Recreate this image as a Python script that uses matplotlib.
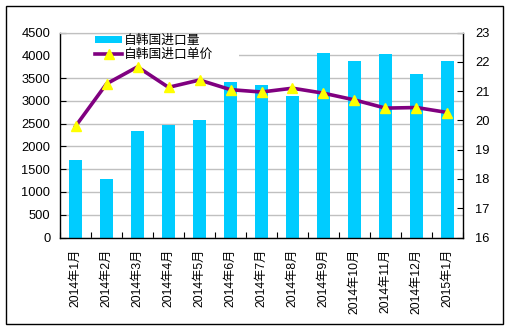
import matplotlib
matplotlib.use("Agg")
import matplotlib.pyplot as plt
from matplotlib.patches import Rectangle
from matplotlib.lines import Line2D
import numpy as np

plt.rcParams['font.family'] = ['Liberation Sans', 'Noto Sans CJK SC', 'DejaVu Sans']

months = ["2014年1月", "2014年2月", "2014年3月", "2014年4月", "2014年5月",
          "2014年6月", "2014年7月", "2014年8月", "2014年9月", "2014年10月",
          "2014年11月", "2014年12月", "2015年1月"]
import_volume = [1700, 1280, 2340, 2470, 2570, 3420, 3350, 3110, 4050,
                 3880, 4040, 3590, 3880]
import_price = [19.8, 21.25, 21.83, 21.13, 21.38, 21.05, 20.97, 21.1, 20.93,
                20.7, 20.42, 20.44, 20.27]
left_ticks = [0, 500, 1000, 1500, 2000, 2500, 3000, 3500, 4000, 4500]
right_ticks = [16, 17, 18, 19, 20, 21, 22, 23]

bar_color = "#00CCFF"
line_color = "#800080"
marker_color = "#FFFF00"
grid_color = "#C0C0C0"

fig = plt.figure(figsize=(5.13, 3.29), dpi=100)
ax = fig.add_axes([0.117, 0.278, 0.7855, 0.623])
ax2 = ax.twinx()

x = np.arange(len(months))

# gridlines and the white legend backing sit under the bars
ax.set_axisbelow(True)
ax.yaxis.grid(True, color=grid_color, linewidth=1.0, zorder=0)
ax.add_patch(Rectangle((0.0, 0.8), 0.445, 0.185, transform=ax.transAxes,
                       facecolor="white", edgecolor="none", zorder=1))

ax.bar(x, import_volume, width=0.39, color=bar_color, zorder=2)
ax2.plot(x, import_price, color=line_color, linewidth=2.6, marker="^",
         markersize=7.5, markerfacecolor=marker_color,
         markeredgecolor=marker_color, zorder=3)

ax.set_xlim(-0.5, len(months) - 0.5)
ax.set_ylim(0, 4500)
ax2.set_ylim(16, 23)

ax.set_yticks(left_ticks)
ax2.set_yticks(right_ticks)
ax.set_xticks(x)
ax.set_xticklabels(months, rotation=90, fontsize=8.8)
ax.set_xticks(np.arange(-0.5, len(months), 1.0), minor=True)
ax.tick_params(axis="x", which="major", length=0, pad=8)
ax.tick_params(axis="x", which="minor", length=4, direction="in", width=0.8)
ax.tick_params(axis="y", length=4, direction="in", width=0.8, labelsize=9.3, pad=7)
ax2.tick_params(axis="y", length=4, direction="in", width=0.8, labelsize=9.3, pad=9)

for spine in ("left", "bottom"):
    ax.spines[spine].set_color("black")
    ax.spines[spine].set_linewidth(1.0)
ax.spines["top"].set_color(grid_color)
ax.spines["right"].set_visible(False)
for spine in ("left", "bottom"):
    ax2.spines[spine].set_visible(False)
ax2.spines["top"].set_color(grid_color)
ax2.spines["right"].set_color("black")
ax2.spines["right"].set_linewidth(1.0)

handles = [
    Rectangle((0, 0), 1, 1, facecolor=bar_color, edgecolor="none"),
    Line2D([], [], color=line_color, linewidth=2.6, marker="^", markersize=7.5,
           markerfacecolor=marker_color, markeredgecolor=marker_color),
]
leg = ax2.legend(handles, ["自韩国进口量", "自韩国进口单价"],
                 loc="upper left", bbox_to_anchor=(0.065, 1.035),
                 frameon=False, prop={'family': ['Noto Sans CJK SC', 'DejaVu Sans'],
                                      'size': 9.2},
                 handlelength=2.1, handleheight=0.5, handletextpad=0.15,
                 labelspacing=0.05, borderpad=0.2)

# outer chart border
fig.add_artist(Rectangle((5.5 / 513, 1 - 323.5 / 329), 497.5 / 513, 317.5 / 329,
                         transform=fig.transFigure, facecolor="none",
                         edgecolor="black", linewidth=1.0))

fig.savefig("out.png", dpi=100)
